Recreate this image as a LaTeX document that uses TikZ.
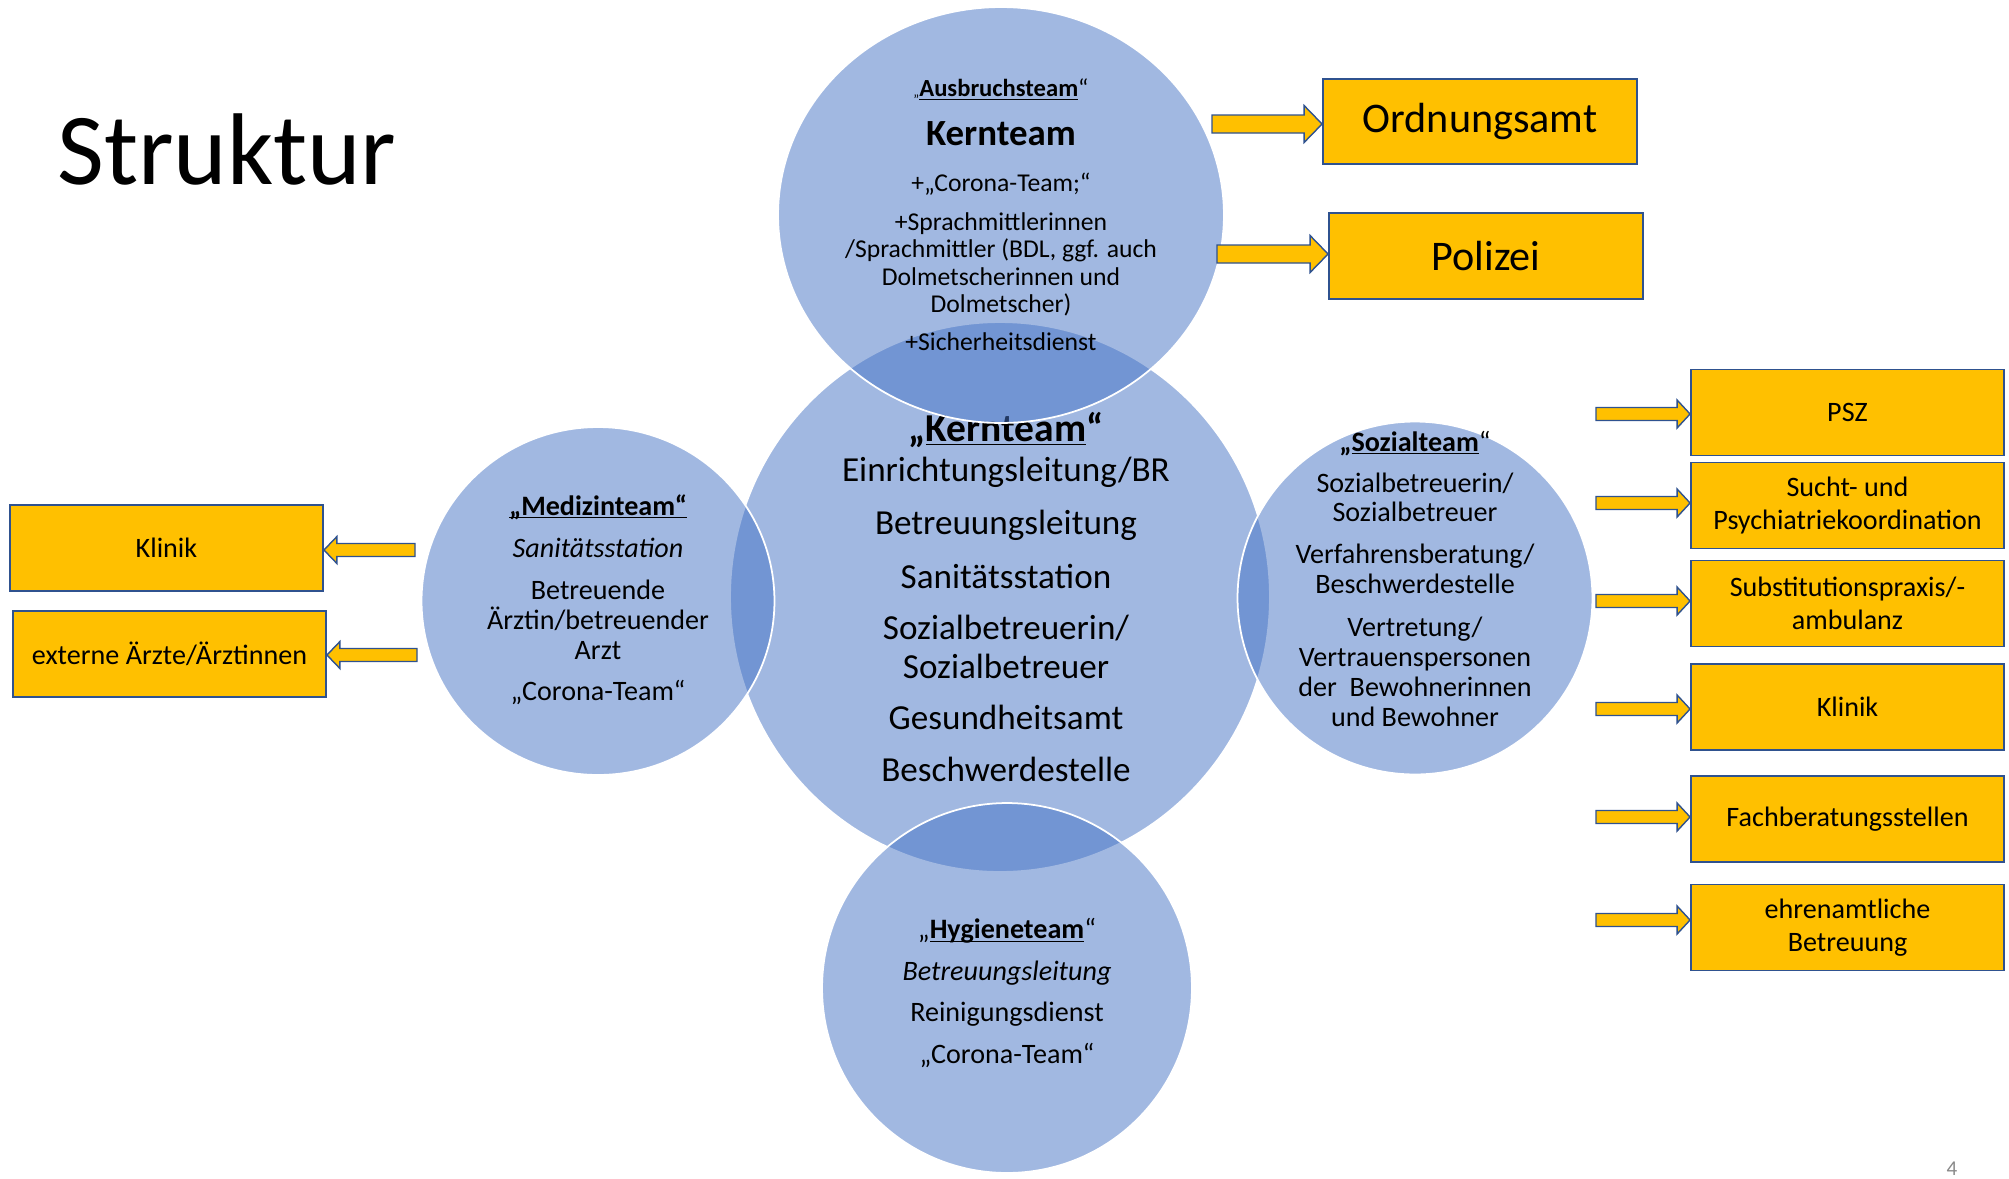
\documentclass[tikz,border=0pt]{standalone}
\usepackage{fontspec}
\setmainfont{Carlito}
\usetikzlibrary{shapes.geometric,calc}

\definecolor{teamblue}{HTML}{4472C4}
\definecolor{boxyellow}{HTML}{FFC000}
\definecolor{boxline}{HTML}{2F528F}
\definecolor{pagegrey}{HTML}{898989}

\newcommand{\teamhead}[1]{\underline{\smash{#1}}}
\newcommand{\lines}[2]{\fontsize{#1}{#2}\selectfont\lineskiplimit=-50pt}
% tail, tip, half shaft, half head, head length (signed)
\newcommand{\blockarrow}[5]{%
    \draw[blockarr] ($(#1)+(0,#3)$) -- ($(#2)+(#5,#3)$) -- ($(#2)+(#5,#4)$) -- (#2)
        -- ($(#2)+(#5,-#4)$) -- ($(#2)+(#5,-#3)$) -- ($(#1)+(0,-#3)$) -- cycle;
}

\tikzset{
    team/.style={ellipse, fill=teamblue, fill opacity=0.5, draw=white, line width=1pt, inner sep=0pt},
    teamtext/.style={align=center, inner sep=0pt, font=\lines{16}{17}},
    extbox/.style={rectangle, fill=boxyellow, draw=boxline, line width=1.1pt, minimum width=6.26cm, minimum height=1.72cm, align=center, font=\lines{16}{19}},
    blockarr/.style={fill=boxyellow, draw=boxline, line width=0.8pt, line join=miter}
}

\begin{document}
\begin{tikzpicture}[x=0.02cm, y=-0.02cm]
    \useasboundingbox (0,0) rectangle (2009,1178);

    \node[anchor=base west, inner sep=0pt, font=\fontsize{58}{58}\selectfont] (title) at (57,184) {Struktur};

    % Kernteam in the middle, its text lies under the upper circle
    \node[team, minimum width=10.8cm, minimum height=11cm] (kern) at (1000,597) {};
    \node[teamtext, font=\lines{20}{22.2}] (kern-txt) at (1006,597) {{\fontsize{22.5}{22.5}\selectfont\bfseries „\teamhead{Kernteam}“}\\[0.6pt]
        Einrichtungsleitung/BR\\[8pt] Betreuungsleitung\\[8.5pt] Sanitätsstation\\[6.8pt]
        Sozialbetreuerin/\\ Sozialbetreuer\\[6.8pt] Gesundheitsamt\\[7.4pt] Beschwerdestelle};

    \node[team, minimum width=8.92cm, minimum height=8.32cm] (ausbruch) at (1001,215) {};
    \node[team, minimum width=7.06cm, minimum height=6.96cm] (medizin) at (598,601) {};
    \node[team, minimum width=7.1cm, minimum height=7.06cm] (sozial) at (1415,598) {};
    \node[team, minimum width=7.4cm, minimum height=7.4cm] (hygiene) at (1007,988) {};

    \node[teamtext, font=\lines{14.6}{15.65}] (ausbruch-txt) at (1001,215) {{\fontsize{8}{8}\selectfont„}{\fontsize{14}{14}\selectfont\textbf{\teamhead{Ausbruchsteam}}“}\\[12.2pt]
        {\fontsize{21}{21}\selectfont\bfseries Kernteam}\\[10.5pt]
        +„Corona-Team;“\\[6.5pt]
        +Sprachmittlerinnen\\ /Sprachmittler (BDL, ggf. auch\\ Dolmetscherinnen und\\ Dolmetscher)\\[6pt]
        +Sicherheitsdienst};
    \node[teamtext] (medizin-txt) at (598,610) {\textbf{\teamhead{„Medizinteam“}}\\[6.8pt]
        \textit{Sanitätsstation}\\[7.4pt]
        Betreuende\\ Ärztin/betreuender\\ Arzt\\[6.3pt]
        „Corona-Team“};
    \node[teamtext] (sozial-txt) at (1415,578.5) {\textbf{„\teamhead{Sozialteam}}“\\[6.3pt]
        Sozialbetreuerin/\\ Sozialbetreuer\\[6.8pt]
        Verfahrensberatung/\\ Beschwerdestelle\\[7.4pt]
        Vertretung/\\ Vertrauenspersonen\\ der\ \ Bewohnerinnen\\ und Bewohner};
    \node[teamtext] (hygiene-txt) at (1007,993) {„\textbf{\teamhead{Hygieneteam}}“\\[6.8pt]
        \textit{Betreuungsleitung}\\[6.3pt]
        Reinigungsdienst\\[6.8pt]
        „Corona-Team“};

    % boxes on the top
    \node[extbox, minimum width=6.28cm, minimum height=1.7cm, font=\fontsize{24}{24}\selectfont] (ordnung) at (1480,121.5) {Ordnungsamt};
    \node[extbox, minimum width=6.28cm, minimum height=1.72cm, font=\fontsize{24}{24}\selectfont] (polizei) at (1486,256) {Polizei};
    \coordinate (ordnung-tail) at (1212,124);
    \coordinate (ordnung-tip) at (ordnung-tail -| ordnung.west);
    \coordinate (polizei-tail) at (1217,254);
    \coordinate (polizei-tip) at (polizei-tail -| polizei.west);
    \blockarrow{ordnung-tail}{ordnung-tip}{9}{18.5}{-18}
    \blockarrow{polizei-tail}{polizei-tip}{9}{18.5}{-18}

    % boxes on the right
    \node[extbox] (psz) at (1847.5,412.5) {PSZ};
    \node[extbox] (sucht) at (1847.5,505.5) {Sucht- und\\ Psychiatriekoordination};
    \node[extbox] (subst) at (1847.5,603.5) {Substitutionspraxis/-\\ ambulanz};
    \node[extbox] (klinik-r) at (1847.5,707) {Klinik};
    \node[extbox] (fach) at (1847.5,819) {Fachberatungsstellen};
    \node[extbox] (ehrenamt) at (1847.5,927.5) {ehrenamtliche\\ Betreuung};
    \coordinate (psz-tail) at (1596,414);
    \coordinate (psz-tip) at (psz-tail -| psz.west);
    \coordinate (sucht-tail) at (1596,503);
    \coordinate (sucht-tip) at (sucht-tail -| sucht.west);
    \coordinate (subst-tail) at (1596,601);
    \coordinate (subst-tip) at (subst-tail -| subst.west);
    \coordinate (klinik-r-tail) at (1596,709);
    \coordinate (klinik-r-tip) at (klinik-r-tail -| klinik-r.west);
    \coordinate (fach-tail) at (1596,817);
    \coordinate (fach-tip) at (fach-tail -| fach.west);
    \coordinate (ehrenamt-tail) at (1596,920);
    \coordinate (ehrenamt-tip) at (ehrenamt-tail -| ehrenamt.west);
    \blockarrow{psz-tail}{psz-tip}{6.5}{14}{-13}
    \blockarrow{sucht-tail}{sucht-tip}{6.5}{14}{-13}
    \blockarrow{subst-tail}{subst-tip}{6.5}{14}{-13}
    \blockarrow{klinik-r-tail}{klinik-r-tip}{6.5}{14}{-13}
    \blockarrow{fach-tail}{fach-tip}{6.5}{14}{-13}
    \blockarrow{ehrenamt-tail}{ehrenamt-tip}{6.5}{14}{-13}

    % boxes on the left
    \node[extbox] (klinik-l) at (166.5,548) {Klinik};
    \node[extbox] (aerzte) at (169.5,654) {externe Ärzte/Ärztinnen};
    \coordinate (klinik-l-tail) at (415,550);
    \coordinate (klinik-l-tip) at (klinik-l-tail -| klinik-l.east);
    \coordinate (aerzte-tail) at (417,655);
    \coordinate (aerzte-tip) at (aerzte-tail -| aerzte.east);
    \blockarrow{klinik-l-tail}{klinik-l-tip}{6.5}{13.5}{13}
    \blockarrow{aerzte-tail}{aerzte-tip}{6.5}{13.5}{13}

    \node[anchor=base, inner sep=0pt, text=pagegrey, font=\fontsize{12}{12}\selectfont] (pagenr) at (1952,1175) {4};
\end{tikzpicture}
\end{document}
